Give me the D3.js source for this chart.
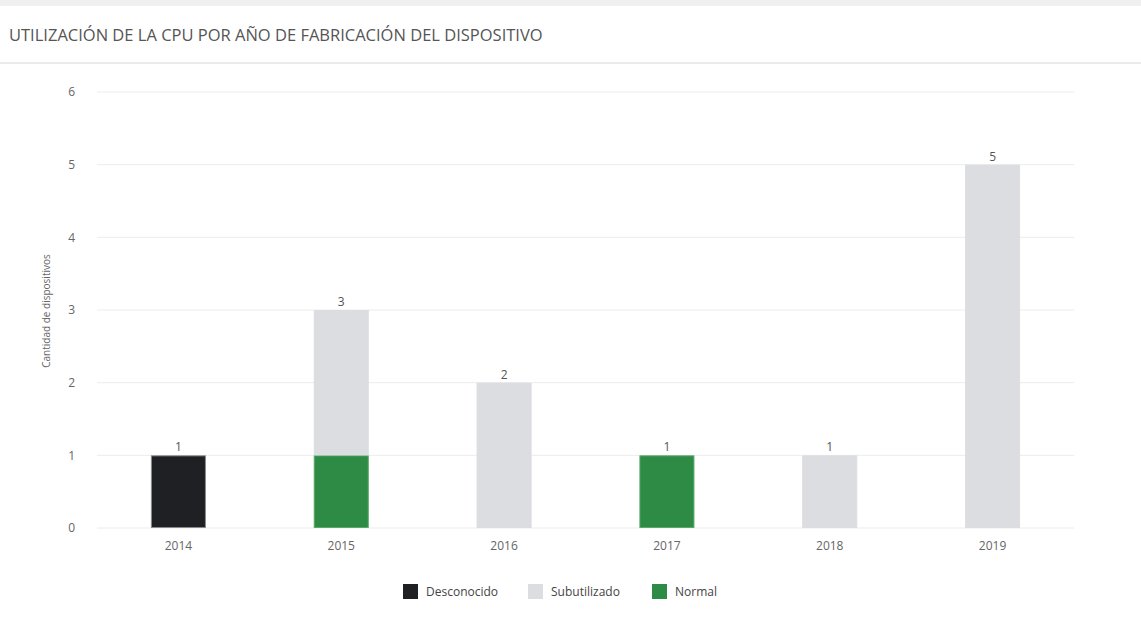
<!DOCTYPE html>
<html><head><meta charset="utf-8">
<script src="https://cdn.jsdelivr.net/npm/d3@7"></script>
<style>
body{margin:0;background:#fff;}
svg{display:block;font-family:"Open Sans",sans-serif;}
</style></head><body>
<svg id="c" width="1141" height="642"></svg>
<script>
const categories = ["2014","2015","2016","2017","2018","2019"];
const desconocido = [1,0,0,0,0,0];
const subutilizado = [0,2,2,0,1,5];
const normal = [0,1,0,1,0,0];
const yTicks = [0,1,2,3,4,5,6];
const seriesNames = ["Desconocido","Subutilizado","Normal"];
const colors = {"Desconocido":"#1f2024","Subutilizado":"#dcdde1","Normal":"#2e8b45"};
const strokes = {"Desconocido":"#8a8a8a","Subutilizado":"#dcdde1","Normal":"#5aa86a"};

(function(){
const svg = d3.select("#c");
const W = 1141, H = 642;
svg.append("rect").attr("x",0).attr("y",0).attr("width",W).attr("height",6).attr("fill","#f0f0f0");
svg.append("text").attr("x",9).attr("y",41).attr("font-size",16.5).attr("fill","#555")
  .text("UTILIZACIÓN DE LA CPU POR AÑO DE FABRICACIÓN DEL DISPOSITIVO");
svg.append("rect").attr("x",0).attr("y",62).attr("width",W).attr("height",2).attr("fill","#ebebeb");

const mL = 97, mR = 1074, mT = 92, mB = 528;
const x = d3.scaleBand().domain(categories).range([mL,mR]).paddingInner(0.662).paddingOuter(0.331);
const y = d3.scaleLinear().domain([0,6]).range([mB,mT]);

svg.append("g").selectAll("line").data(yTicks).join("line")
  .attr("x1",mL).attr("x2",mR).attr("y1",d=>y(d)).attr("y2",d=>y(d))
  .attr("stroke","#ececec").attr("stroke-width",1);

const ya = svg.append("g").attr("transform",`translate(${mL},0)`)
  .call(d3.axisLeft(y).tickValues(yTicks).tickFormat(d3.format("d")).tickSize(0).tickPadding(22));
ya.select(".domain").remove();
ya.selectAll("text").attr("font-size",12).attr("fill","#666").attr("font-family","'Open Sans',sans-serif");

const xa = svg.append("g").attr("transform",`translate(0,${mB})`)
  .call(d3.axisBottom(x).tickSize(0).tickPadding(13));
xa.select(".domain").remove();
xa.selectAll("text").attr("font-size",12).attr("fill","#666").attr("font-family","'Open Sans',sans-serif");

svg.append("text").attr("transform",`translate(50,${(mT+mB)/2+1}) rotate(-90)`)
  .attr("text-anchor","middle").attr("font-size",10).attr("fill","#666").text("Cantidad de dispositivos");

const table = categories.map((c,i)=>({cat:c, Desconocido:desconocido[i], Subutilizado:subutilizado[i], Normal:normal[i]}));
const stack = d3.stack().keys(["Desconocido","Normal","Subutilizado"])(table);
svg.append("g").selectAll("g").data(stack).join("g")
  .attr("fill",d=>colors[d.key]).attr("stroke",d=>strokes[d.key])
  .selectAll("rect").data(d=>d.filter(p=>p[1]-p[0]>0)).join("rect")
  .attr("x",d=>x(d.data.cat)+0.5).attr("width",x.bandwidth()-1)
  .attr("y",d=>y(d[1])+0.5).attr("height",d=>y(d[0])-y(d[1])-1);

svg.append("g").selectAll("text").data(table).join("text")
  .attr("x",d=>x(d.cat)+x.bandwidth()/2)
  .attr("y",d=>y(d.Desconocido+d.Subutilizado+d.Normal)-4)
  .attr("text-anchor","middle").attr("font-size",12).attr("fill","#555")
  .text(d=>d.Desconocido+d.Subutilizado+d.Normal);

const legX = [403,528,652];
const lg = svg.append("g").selectAll("g").data(seriesNames).join("g")
  .attr("transform",(d,i)=>`translate(${legX[i]},584)`);
lg.append("rect").attr("width",15).attr("height",15).attr("fill",d=>colors[d]);
lg.append("text").attr("x",23).attr("y",12).attr("font-size",12).attr("fill","#444").text(d=>d);
})();
</script></body></html>
